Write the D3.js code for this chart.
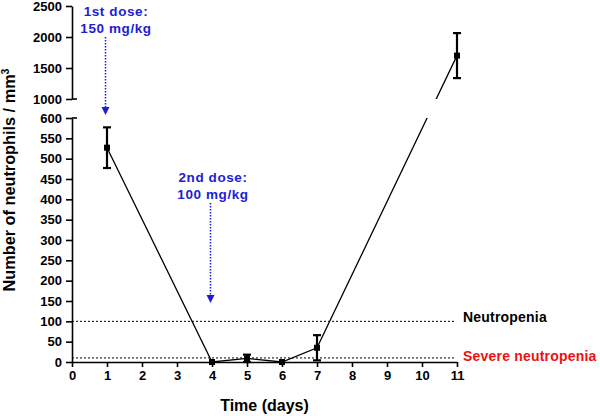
<!DOCTYPE html>
<html><head><meta charset="utf-8">
<script src="https://cdn.jsdelivr.net/npm/d3@7"></script>
<style>body{margin:0;background:#fff}svg{display:block}text{font-family:"Liberation Sans",Arial,sans-serif;font-weight:bold}</style>
</head><body>
<script>
const days = [1, 4, 5, 6, 7, 11];
const means = [527, 0, 9, 0, 35, 1700];
const errs = [50, 0, 9, 0, 31, 363];
const xTicks = [0,1,2,3,4,5,6,7,8,9,10,11];
const yTicksLower = [0,50,100,150,200,250,300,350,400,450,500,550,600];
const yTicksUpper = [1000,1500,2000,2500];
const thresholds = [100, 10];
const thresholdLabels = ["Neutropenia", "Severe neutropenia"];
const thresholdColors = ["#000", "#f01010"];
const doses = [1, 4];
const doseLabels = [["1st dose:", "150 mg/kg"], ["2nd dose:", "100 mg/kg"]];

const W = 600, H = 416;
const svg = d3.select("body").append("svg").attr("width", W).attr("height", H);

const x = d3.scaleLinear().domain([0, 11]).range([72, 457]);
const yLow = d3.scaleLinear().domain([0, 600]).range([362, 118]);
const yUp = d3.scaleLinear().domain([1000, 2500]).range([99, 6]);
const y = v => v <= 600 ? yLow(v) : yUp(v);
const blue = "#1d1dd6";

const defs = svg.append("defs");
defs.append("clipPath").attr("id", "clipLow").append("rect")
  .attr("x", 60).attr("y", yLow(600)).attr("width", 420).attr("height", yLow(0) - yLow(600) + 10);
defs.append("clipPath").attr("id", "clipUp").append("rect")
  .attr("x", 60).attr("y", 0).attr("width", 420).attr("height", yUp(1000));

// threshold lines
thresholds.forEach((t, i) => {
  svg.append("line").attr("x1", x(0)).attr("x2", x(11) - 2)
    .attr("y1", yLow(t)).attr("y2", yLow(t))
    .attr("stroke", "#000").attr("stroke-width", 1).attr("stroke-dasharray", "2,2");
  svg.append("text").attr("x", 463).attr("y", yLow(t) + (i === 0 ? 1 : 3.5))
    .attr("font-size", 14).attr("fill", thresholdColors[i])
    .attr("letter-spacing", 0.2).text(thresholdLabels[i]);
});

// axes
const fmt = d3.format("d");
const axLow = svg.append("g").attr("transform", `translate(${x(0)},0)`)
  .call(d3.axisLeft(yLow).tickValues(yTicksLower).tickFormat(fmt).tickSize(6).tickSizeOuter(0).tickPadding(4));
const axUp = svg.append("g").attr("transform", `translate(${x(0)},0)`)
  .call(d3.axisLeft(yUp).tickValues(yTicksUpper).tickFormat(fmt).tickSize(6).tickSizeOuter(0).tickPadding(4));
const axX = svg.append("g").attr("transform", `translate(0,${yLow(0)})`)
  .call(d3.axisBottom(x).tickValues(xTicks).tickFormat(fmt).tickSize(5).tickSizeOuter(0).tickPadding(4));
[axLow, axUp, axX].forEach(g => {
  g.selectAll("path.domain").attr("stroke", "#000").attr("stroke-width", 1.6);
  g.selectAll(".tick line").attr("stroke", "#000").attr("stroke-width", 1.6);
  g.selectAll(".tick text").attr("font-size", 13).attr("fill", "#000")
    .attr("font-family", '"Liberation Sans",Arial,sans-serif').attr("font-weight", "bold");
});
[yLow(600), yUp(1000)].forEach(yy => {
  svg.append("line").attr("x1", x(0)).attr("x2", x(0) + 5).attr("y1", yy).attr("y2", yy)
    .attr("stroke", "#000").attr("stroke-width", 1.6);
});

// axis titles
svg.append("text").attr("x", x(5.5)).attr("y", 411).attr("text-anchor", "middle")
  .attr("font-size", 16).text("Time (days)");
const yt = svg.append("text").attr("transform", `translate(15,180) rotate(-90)`)
  .attr("text-anchor", "middle").attr("font-size", 16.3);
yt.append("tspan").text("Number of neutrophils / mm");
yt.append("tspan").attr("font-size", 10.5).attr("dy", -6).text("3");

// data line
const pts = days.map((d, i) => [x(d), y(means[i])]);
const line = d3.line();
["clipLow", "clipUp"].forEach(c => {
  svg.append("path").attr("d", line(pts)).attr("fill", "none")
    .attr("stroke", "#000").attr("stroke-width", 1.3).attr("clip-path", `url(#${c})`);
});

// error bars
days.forEach((d, i) => {
  if (errs[i] === 0) return;
  const cx = x(d), top = y(means[i] + errs[i]), bot = y(Math.max(0, means[i] - errs[i]));
  const g = svg.append("g").attr("stroke", "#000").attr("stroke-width", 2.2);
  g.append("line").attr("x1", cx).attr("x2", cx).attr("y1", top).attr("y2", bot);
  g.append("line").attr("x1", cx - 4).attr("x2", cx + 4).attr("y1", top).attr("y2", top);
  g.append("line").attr("x1", cx - 4).attr("x2", cx + 4).attr("y1", bot).attr("y2", bot);
});
svg.selectAll("rect.m").data(days).enter().append("rect").attr("class", "m")
  .attr("x", d => x(d) - 3).attr("y", (d, i) => y(means[i]) - 3)
  .attr("width", 6).attr("height", 6).attr("fill", "#000");

// dose annotations
const doseText = [[15.5, 33], [181.5, 199]];
const arrowY = [[37, 115], [203, 303]];
doses.forEach((d, i) => {
  const cx = x(d) + (i === 0 ? 9 : 1);
  doseLabels[i].forEach((t, j) => {
    svg.append("text").attr("x", cx).attr("y", doseText[i][j]).attr("text-anchor", "middle")
      .attr("font-size", 13.5).attr("letter-spacing", 0.6).attr("fill", blue).text(t);
  });
  const ax = x(d) - 1.5;
  const [y0, y1] = arrowY[i];
  svg.append("line").attr("x1", ax).attr("x2", ax).attr("y1", y0).attr("y2", y1 - 7)
    .attr("stroke", blue).attr("stroke-width", 1.5).attr("stroke-dasharray", "1.5,1.5");
  svg.append("path").attr("d", `M${ax - 4},${y1 - 8} L${ax + 4},${y1 - 8} L${ax},${y1} Z`).attr("fill", blue);
});
</script>
</body></html>
